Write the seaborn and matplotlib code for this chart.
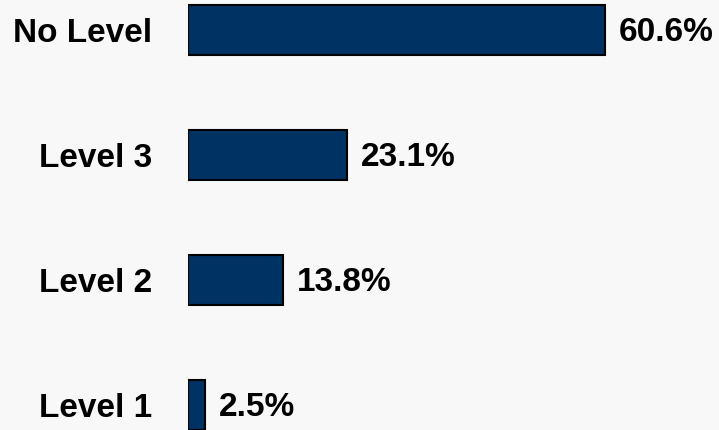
import pandas as pd
import seaborn as sns
import matplotlib.pyplot as plt

levels = ["No Level", "Level 3", "Level 2", "Level 1"]
shares = [60.6, 23.1, 13.8, 2.5]

bg = "#f8f8f8"
navy = "#003263"

sns.set_style("white")
plt.rcParams["font.family"] = ["Liberation Sans", "DejaVu Sans"]
plt.rcParams["text.color"] = "black"
plt.rcParams["ytick.color"] = "black"

df = pd.DataFrame({"level": levels, "share": shares})

fig = plt.figure(figsize=(7.19, 4.30), dpi=100, facecolor=bg)
ax = fig.add_axes([188 / 719, 0, 1 - 188 / 719, 1])
ax.set_facecolor(bg)

sns.barplot(data=df, x="share", y="level", orient="h", color=navy,
            saturation=1, width=0.4, edgecolor="black", linewidth=1.5, ax=ax)

labels = ax.bar_label(ax.containers[0], fmt="%.1f%%", padding=10,
                      fontsize=24, fontweight="bold", color="black")
# nudge value labels down a little, like the original
for t in labels:
    t.xyann = (t.xyann[0], -2)

ax.set_xlim(0, 77.2)
ax.set_ylim(3.2, -0.24)
ax.set_xlabel("")
ax.set_ylabel("")
ax.set_xticks([])
ax.tick_params(axis="y", length=0, pad=26, labelcolor="black")
for lbl in ax.get_yticklabels():
    lbl.set_fontsize(24)
    lbl.set_fontweight("bold")
sns.despine(ax=ax, left=True, bottom=True)

fig.savefig("out.png", dpi=100, facecolor=bg)
